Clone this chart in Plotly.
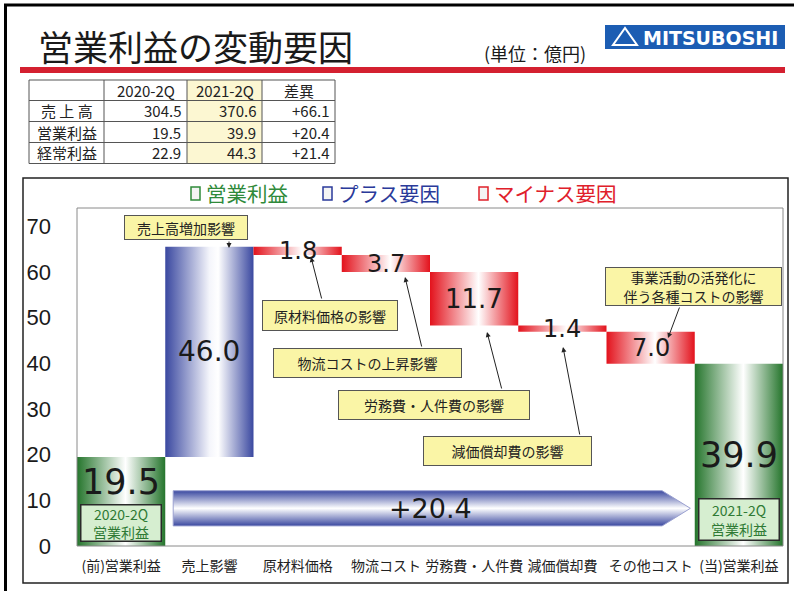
import plotly.graph_objects as go

# ---------------- data ----------------
categories = ['(前)営業利益', '売上影響', '原材料価格', '物流コスト',
              '労務費・人件費', '減価償却費', 'その他コスト', '(当)営業利益']
amounts = [19.5, 46.0, 1.8, 3.7, 11.7, 1.4, 7.0, 39.9]
kinds = ['total', 'plus', 'minus', 'minus', 'minus', 'minus', 'minus', 'total']
change_total = 20.4
y_ticks = [0, 10, 20, 30, 40, 50, 60, 70]

table_cols = ['2020-2Q', '2021-2Q', '差異']
table_rows = ['売 上 高', '営業利益', '経常利益']
val_2020 = [304.5, 19.5, 22.9]
val_2021 = [370.6, 39.9, 44.3]
val_diff = [66.1, 20.4, 21.4]

total_captions = ['2020-2Q<br>営業利益', '2021-2Q<br>営業利益']
callouts = ['売上高増加影響', '原材料価格の影響', '物流コストの上昇影響',
            '労務費・人件費の影響', '減価償却費の影響',
            '事業活動の活発化に<br>伴う各種コストの影響']

# ---------------- layout helpers ----------------
W, H = 794, 591
L, R, T, B = 77, 783, 208, 546
YMAX = 74
JP = 'Noto Sans CJK JP'
NUM = 'DejaVu Sans'


def px(x):
    return (x - L) / (R - L)


def py(y):
    return (B - y) / (B - T)


def ann(**kw):
    d = dict(showarrow=False, xanchor='center', yanchor='middle')
    d.update(kw)
    return d


scales = {
    'total': [[0, '#25752c'], [0.55, '#ffffff'], [1, '#25752c']],
    'plus': [[0, '#3a48a0'], [0.5, '#f4f5fb'], [0.6, '#ffffff'], [1, '#3a48a0']],
    'minus': [[0, '#e3121c'], [0.55, '#ffffff'], [1, '#e3121c']],
}

fig = go.Figure()

# waterfall bars with gradient fills
running = 0.0
bars = []
for i, (v, k) in enumerate(zip(amounts, kinds)):
    if k == 'total':
        b, t = 0.0, v
        running = v
    elif k == 'plus':
        b, t = running, running + v
        running = t
    else:
        b, t = running - v, running
        running = b
    bars.append((b, t))
    fig.add_trace(go.Scatter(
        x=[i - 0.5, i + 0.5, i + 0.5, i - 0.5, i - 0.5],
        y=[b, b, t, t, b], mode='lines', fill='toself',
        line=dict(width=0),
        fillgradient=dict(type='horizontal', colorscale=scales[k]),
        hoverinfo='skip', showlegend=False))

# big arrow (+20.4)
ax0, ax1, ax2 = 0.59, 6.13, 6.45
ay0, ay1 = 4.4, 12.1
fig.add_trace(go.Scatter(
    x=[ax0, ax1, ax2, ax1, ax0, ax0],
    y=[ay0, ay0, (ay0 + ay1) / 2, ay1, ay1, ay0],
    mode='lines', fill='toself', line=dict(width=1, color='#9aa0d0'),
    fillgradient=dict(type='vertical',
                      colorscale=[[0, '#3a48a0'], [0.5, '#ffffff'], [1, '#3a48a0']]),
    hoverinfo='skip', showlegend=False))

annotations = []
shapes = []

# value labels
total_label_y = [14.0, 19.9]
ti = 0
for i, ((b, t), v, k) in enumerate(zip(bars, amounts, kinds)):
    if k == 'total':
        yy = total_label_y[ti]
        ti += 1
        size = 35
    else:
        yy = (b + t) / 2
        size = 28 if k == 'plus' else (26 if v > 10 else 24)
    annotations.append(ann(x=i, y=yy, xref='x', yref='y', text=f'{v:.1f}',
                           font=dict(family=NUM, size=size, color='#1a1a1a')))

annotations.append(ann(x=3.5, y=8.3, xref='x', yref='y', text=f'+{change_total:.1f}',
                       font=dict(family=NUM, size=27, color='#1a1a1a')))

# captions inside total bars
for (cx, cy, w, h), txt in zip([(121, 523, 82, 38), (739, 519, 82, 43)], total_captions):
    annotations.append(ann(x=px(cx), y=py(cy), xref='paper', yref='paper', text=txt,
                           width=w - 3, height=h - 3, borderpad=0,
                           bgcolor='#d6eed0', bordercolor='#2a2a2a', borderwidth=1.5,
                           font=dict(family=JP, size=14, color='#2f7a35')))

# yellow callout boxes
boxes = [(124, 215, 248, 240), (262, 300, 398, 331), (273, 348, 462, 378),
         (338, 390, 530, 420), (423, 436, 592, 466), (605, 267, 782, 306)]
for (x0, y0, x1, y1), txt in zip(boxes, callouts):
    annotations.append(ann(x=px((x0 + x1) / 2), y=py((y0 + y1) / 2), xref='paper', yref='paper',
                           text=txt, width=x1 - x0 - 2, height=y1 - y0 - 2,
                           borderpad=0, bgcolor='#faf5a6', bordercolor='#555555', borderwidth=1,
                           font=dict(family=JP, size=14, color='#222222')))

# callout arrows (tail -> head, page pixels)
arrows = [((229, 240), (229, 248)), ((322, 300), (311, 257)), ((422, 348), (405, 277)),
          ((502, 390), (487, 332)), ((580, 436), (563, 347)), ((680, 306), (668, 338))]
for (tx, ty), (hx, hy) in arrows:
    annotations.append(dict(x=px(hx), y=py(hy), xref='paper', yref='paper', text='',
                            showarrow=True, ax=tx - hx, ay=ty - hy, arrowhead=2, arrowsize=1,
                            arrowwidth=1, arrowcolor='#222222', standoff=0, startstandoff=0))

# legend
legend_items = [('営業利益', 191, '#2f8a3a'),
                ('プラス要因', 323, '#2a3a9a'),
                ('マイナス要因', 479, '#e0202a')]
for txt, x0, c in legend_items:
    shapes.append(dict(type='rect', xref='paper', yref='paper', x0=px(x0), x1=px(x0 + 9),
                       y0=py(200), y1=py(187), line=dict(color=c, width=1.5), fillcolor='#f4f4f4'))
    annotations.append(ann(x=px(x0 + 13), y=py(193.5), xref='paper', yref='paper', text=txt,
                           xanchor='left', font=dict(family=JP, size=20.5, color=c)))

# title, unit, logo, red rule
annotations.append(ann(x=px(36), y=py(45), xref='paper', yref='paper', text='営業利益の変動要因',
                       xanchor='left', font=dict(family=JP, size=35, color='#1a1a1a')))
annotations.append(ann(x=px(482), y=py(53), xref='paper', yref='paper', text='(単位：億円)',
                       xanchor='left', font=dict(family=JP, size=18, color='#1a1a1a')))
shapes.append(dict(type='rect', xref='paper', yref='paper', x0=px(605), x1=px(785),
                   y0=py(49), y1=py(25), line=dict(width=0), fillcolor='#1c5db3'))
shapes.append(dict(type='path', xref='paper', yref='paper',
                   path=f'M {px(613)} {py(45)} L {px(637)} {py(45)} L {px(625)} {py(28)} Z',
                   line=dict(color='white', width=2), fillcolor='rgba(0,0,0,0)'))
annotations.append(ann(x=px(710), y=py(37.5), xref='paper', yref='paper', text='<b>MITSUBOSHI</b>',
                       font=dict(family='DejaVu Sans', size=19, color='white')))
shapes.append(dict(type='rect', xref='paper', yref='paper', x0=px(20), x1=px(785),
                   y0=py(73), y1=py(67), line=dict(width=0), fillcolor='#d42030'))

# table
col_x = [29, 104, 187, 262, 335]
row_y = [80, 100.5, 121.5, 142.5, 163.5]
shapes.append(dict(type='rect', xref='paper', yref='paper', x0=px(col_x[2]), x1=px(col_x[3]),
                   y0=py(row_y[-1]), y1=py(row_y[0]), line=dict(width=0), fillcolor='#fcf7d2'))
for xv in col_x:
    shapes.append(dict(type='line', xref='paper', yref='paper', x0=px(xv), x1=px(xv),
                       y0=py(row_y[0]), y1=py(row_y[-1]), line=dict(color='#555555', width=1)))
for yv in row_y:
    shapes.append(dict(type='line', xref='paper', yref='paper', x0=px(col_x[0]), x1=px(col_x[-1]),
                       y0=py(yv), y1=py(yv), line=dict(color='#555555', width=1)))
tfont = dict(family=JP, size=15, color='#222222')
for j, c in enumerate(table_cols):
    annotations.append(ann(x=px((col_x[j + 1] + col_x[j + 2]) / 2), y=py((row_y[0] + row_y[1]) / 2),
                           xref='paper', yref='paper', text=c, font=tfont))
for r, name in enumerate(table_rows):
    yc = py((row_y[r + 1] + row_y[r + 2]) / 2)
    annotations.append(ann(x=px((col_x[0] + col_x[1]) / 2), y=yc, xref='paper', yref='paper',
                           text=name, font=tfont))
    for j, txt in enumerate([f'{val_2020[r]:.1f}', f'{val_2021[r]:.1f}', f'+{val_diff[r]:.1f}']):
        annotations.append(ann(x=px(col_x[j + 2] - 4), y=yc, xref='paper', yref='paper', text=txt,
                               xanchor='right', font=tfont))

# frames
shapes.append(dict(type='rect', xref='paper', yref='paper', x0=px(23), x1=px(788),
                   y0=py(583), y1=py(178), line=dict(color='#222222', width=1.5)))
shapes.append(dict(type='rect', xref='paper', yref='paper', x0=0, x1=1, y0=0, y1=1,
                   line=dict(color='#8a8a8a', width=1)))
shapes.append(dict(type='line', xref='paper', yref='paper', x0=px(4), x1=px(W),
                   y0=py(5), y1=py(5), line=dict(color='black', width=3)))
shapes.append(dict(type='line', xref='paper', yref='paper', x0=px(5.5), x1=px(5.5),
                   y0=py(4), y1=py(H), line=dict(color='black', width=3)))

fig.update_layout(
    width=W, height=H,
    margin=dict(l=L, r=W - R, t=T, b=H - B),
    paper_bgcolor='white', plot_bgcolor='white',
    showlegend=False,
    annotations=annotations, shapes=shapes,
    xaxis=dict(range=[-0.5, 7.5], tickmode='array', tickvals=list(range(len(categories))),
               ticktext=categories, showgrid=False, zeroline=False, showline=False,
               ticks='', ticklabelstandoff=10,
               tickfont=dict(family=JP, size=14, color='#222222'), fixedrange=True),
    yaxis=dict(range=[0, YMAX], tickmode='array', tickvals=y_ticks, showgrid=False,
               zeroline=False, showline=False, ticks='', ticklabelstandoff=25,
               tickfont=dict(family='Liberation Sans', size=22, color='#1a1a1a'), fixedrange=True),
)

fig.write_html('out.html', config={'displayModeBar': False},
               post_script="document.body.style.margin='0';")
